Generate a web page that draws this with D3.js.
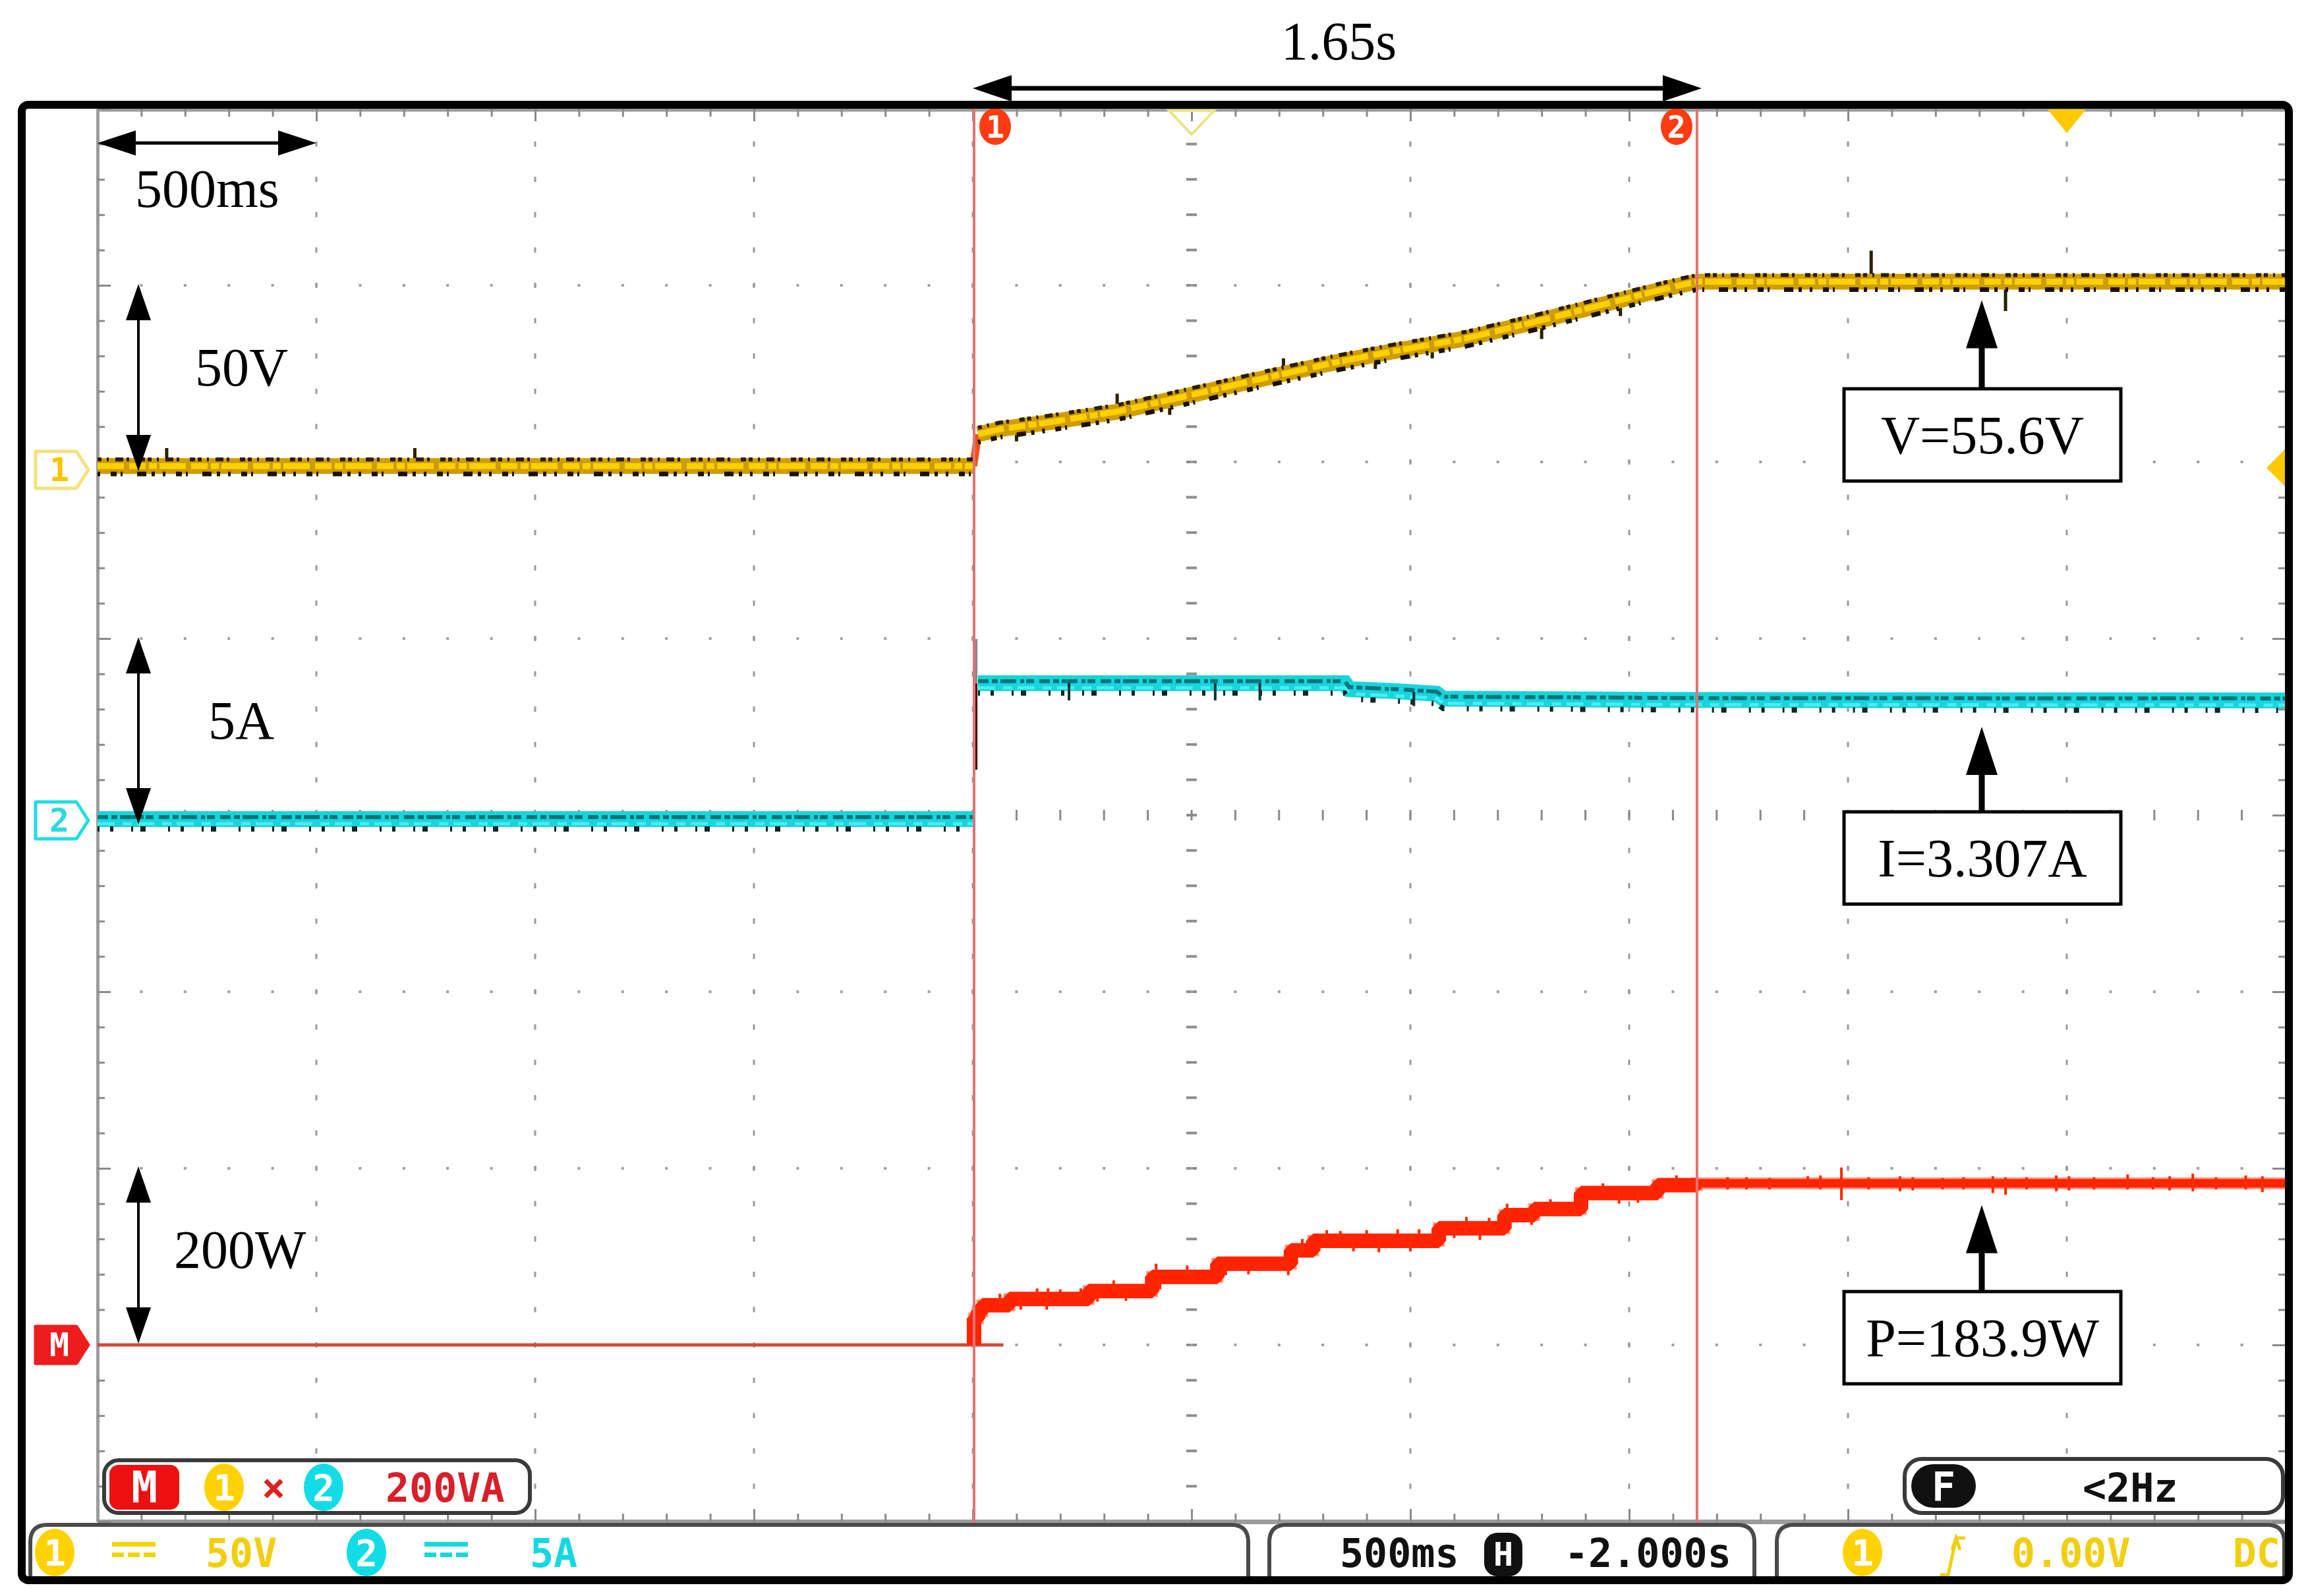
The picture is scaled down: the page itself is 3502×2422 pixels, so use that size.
<!DOCTYPE html>
<html><head><meta charset="utf-8">
<script src="https://cdn.jsdelivr.net/npm/d3@7"></script>
<style>html,body{margin:0;padding:0;background:#fff;} svg{display:block;}</style>
</head><body>
<script>
// ================= DATA =================
const timeDomain = [0, 5];                 // s : 10 divisions x 500 ms
const secPerDiv = 0.5;
const voltsPerDiv = 50, ampsPerDiv = 5, wattsPerDiv = 200;
const cursorTimes = [2.003, 3.655];        // cursor 1 / cursor 2 (Δ = 1.65 s)

// Channel 1 : voltage (V)
const vTimes  = [0, 2.001, 2.012, 2.06, 2.18, 2.33, 2.48, 2.66, 2.815, 2.96, 3.125, 3.27, 3.43, 3.54, 3.61, 3.655, 5.0];
const vValues = [0.5, 0.5, 9.5, 10.9, 13.0, 15.9, 20.1, 25.2, 29.5, 33.0, 36.6, 40.9, 45.9, 49.4, 51.5, 52.7, 52.7];
const vSpikes = [[0.158, 0.5, 5.6], [0.725, 0.5, 5.6], [4.053, 52.7, 61.5], [4.36, 44.4, 52.7], [2.33, 15.9, 21], [2.92, 28, 33], [3.3, 36.5, 41],
  [2.1, 7.5, 13], [2.45, 15, 20], [2.71, 27, 31], [3.05, 31, 36], [3.48, 43, 47.5]];

// Channel 2 : current (A)
const iTimes  = [0, 2.004, 2.012, 2.85, 2.86, 2.97, 3.06, 3.075, 3.655, 5.0];
const iValues = [0, 0, 3.85, 3.85, 3.68, 3.62, 3.55, 3.41, 3.37, 3.36];
const iTransient = [2.007, 1.4, 5.1];      // switching spike [t, low, high]
const iSpikes = [[2.22, 3.36, 3.85], [2.554, 3.36, 3.85], [2.656, 3.36, 3.85], [3.008, 3.2, 3.6]];

// Math M = ch1 x ch2 : power (W)
const pTimes  = [2.003, 2.012, 2.022, 2.084, 2.265, 2.41, 2.559, 2.727, 2.778, 3.065, 3.215, 3.283, 3.39, 3.565, 3.655, 5.0];
const pValues = [30, 38, 45, 52, 61, 77, 92, 107, 118, 132, 147, 154, 172, 181, 183, 183];
const pBaseline = [[0, 0], [2.07, 0]];
const pSpikes = [[2.062, 45, 58], [2.147, 52, 64], [2.169, 40, 52], [2.172, 52, 64], [2.247, 52, 64], [2.285, 49, 61],
  [2.322, 61, 73], [2.419, 77, 92], [2.428, 63, 77], [2.578, 79, 92], [2.721, 79, 92], [2.753, 107, 120],
  [2.809, 118, 130], [2.928, 105, 118], [2.971, 118, 131], [3.128, 132, 145], [3.159, 119, 132], [3.221, 147, 160],
  [3.277, 136, 147], [3.477, 160, 172], [3.608, 181, 192],
  [2.11, 40, 52], [2.2, 52, 63], [2.35, 50, 61], [2.49, 77, 90], [2.63, 80, 92], [2.84, 118, 129], [2.87, 106, 118],
  [2.9, 118, 130], [3.0, 106, 118], [3.02, 118, 131], [3.1, 121, 132], [3.18, 132, 144], [3.32, 154, 165], [3.44, 172, 183], [3.52, 161, 172],
  [3.725, 176, 190], [3.768, 176, 190], [3.821, 176, 189], [3.908, 178, 191], [3.937, 176, 192], [3.985, 164, 201],
  [4.047, 176, 190], [4.119, 174, 191], [4.148, 175, 190], [4.216, 176, 189], [4.264, 176, 190], [4.331, 172, 191],
  [4.36, 170, 190], [4.408, 176, 190], [4.476, 174, 192], [4.505, 175, 191], [4.562, 176, 190], [4.639, 176, 193],
  [4.697, 176, 190], [4.735, 175, 191], [4.788, 174, 194], [4.841, 176, 190], [4.909, 176, 192], [4.947, 173, 191]];

// Annotations
const leftLabels  = ["50V", "5A", "200W"];
const readouts    = ["V=55.6V", "I=3.307A", "P=183.9W"];
const spanLabels  = ["500ms", "1.65s"];

// ================= LAYOUT =================
const W = 3502, H = 2422;
const L = 148, R = 3468, T = 165, B = 2309;
const divH = (B - T) / 8;
const serif = "'Liberation Serif','Times New Roman',serif";
const mono = "'DejaVu Sans Mono','Liberation Mono',monospace";

const svg = d3.select("body").append("svg").attr("width", W).attr("height", H);
svg.append("rect").attr("width", W).attr("height", H).attr("fill", "#fff");

const x  = d3.scaleLinear().domain(timeDomain).range([L, R]);
const gy = d3.scaleLinear().domain([0, 8]).range([T, B]);          // divisions
const yV = d3.scaleLinear().domain([0, voltsPerDiv]).range([710, 710 - divH]);
const yI = d3.scaleLinear().domain([0, ampsPerDiv]).range([1243, 1243 - divH]);
const yP = d3.scaleLinear().domain([0, wattsPerDiv]).range([gy(7), gy(6)]);

// ---------- grid dots ----------
const grid = svg.append("g");
const minorT = d3.range(0, 51).map(i => i * secPerDiv / 5);
const minorD = d3.range(0, 41).map(i => i / 5);
const majorT = d3.range(1, 10).map(i => i * secPerDiv);
const majorD = d3.range(1, 8);
majorT.forEach(t => {
  const cx = x(t), centre = Math.abs(t - 2.5) < 1e-6;
  minorD.forEach(d => {
    if (d <= 0 || d >= 8) return;
    if (centre) grid.append("rect").attr("x", cx - 8).attr("y", gy(d) - 2).attr("width", 16).attr("height", 4).attr("fill", "#8e8e8e");
    else grid.append("rect").attr("x", cx - 1.5).attr("y", gy(d) - 4).attr("width", 3).attr("height", 8).attr("fill", "#9a9a9a");
  });
});
majorD.forEach(r => {
  const cy = gy(r), centre = r === 4;
  minorT.forEach(t => {
    if (t <= 0 || t >= 5) return;
    if (centre) grid.append("rect").attr("x", x(t) - 1.5).attr("y", cy - 8).attr("width", 3).attr("height", 16).attr("fill", "#8a8a8a");
    else grid.append("rect").attr("x", x(t) - 2).attr("y", cy - 2).attr("width", 4).attr("height", 4).attr("fill", "#a0a0a0");
  });
});

// ---------- edge axes (ticks) ----------
function styleAxis(g, w) {
  g.selectAll(".domain").attr("stroke", "#9c9c9c").attr("stroke-width", w);
  g.selectAll(".tick line").attr("stroke", "#8a8a8a").attr("stroke-width", 3);
  g.selectAll("text").remove();
}
const majorTicksT = d3.range(0, 11).map(i => i * secPerDiv);
svg.append("g").attr("transform", `translate(0,${T})`)
  .call(d3.axisBottom(x).tickValues(minorT).tickSize(12).tickSizeOuter(0).tickFormat("")).call(styleAxis, 8);
svg.append("g").attr("transform", `translate(0,${T})`)
  .call(d3.axisBottom(x).tickValues(majorTicksT).tickSize(19).tickSizeOuter(0).tickFormat("")).call(styleAxis, 0);
svg.append("g").attr("transform", `translate(0,${B})`)
  .call(d3.axisTop(x).tickValues(minorT).tickSize(12).tickSizeOuter(0).tickFormat("")).call(styleAxis, 7);
svg.append("g").attr("transform", `translate(0,${B})`)
  .call(d3.axisTop(x).tickValues(majorTicksT).tickSize(19).tickSizeOuter(0).tickFormat("")).call(styleAxis, 0);
svg.append("g").attr("transform", `translate(${L},0)`)
  .call(d3.axisRight(gy).tickValues(minorD).tickSize(11).tickSizeOuter(0).tickFormat("")).call(styleAxis, 5);
svg.append("g").attr("transform", `translate(${L},0)`)
  .call(d3.axisRight(gy).tickValues(d3.range(0, 9)).tickSize(20).tickSizeOuter(0).tickFormat("")).call(styleAxis, 0);
svg.append("g").attr("transform", `translate(${R},0)`)
  .call(d3.axisLeft(gy).tickValues(minorD).tickSize(11).tickSizeOuter(0).tickFormat("")).call(styleAxis, 0);
svg.append("g").attr("transform", `translate(${R},0)`)
  .call(d3.axisLeft(gy).tickValues(d3.range(0, 9)).tickSize(20).tickSizeOuter(0).tickFormat("")).call(styleAxis, 0);

// ---------- traces ----------
const tr = svg.append("g").attr("fill", "none");

// Math (power) baseline and ramp
tr.append("path").attr("d", d3.line().x(d => x(d[0])).y(d => yP(d[1]))(pBaseline))
  .attr("stroke", "#cf4a3a").attr("stroke-width", 5);
const pLine = d3.line().x(d => x(d[0])).y(d => yP(d[1])).curve(d3.curveStepAfter);
const pData = [[2.003, 0]].concat(d3.zip(pTimes, pValues));
const pRamp = pData.filter(d => d[0] <= 3.655);
tr.append("path").attr("d", pLine(pData)).attr("stroke", "#ff9a84").attr("stroke-width", 18);
tr.append("path").attr("d", pLine(pData)).attr("stroke", "#ff2400").attr("stroke-width", 13);
tr.append("path").attr("d", pLine(pRamp)).attr("stroke", "#ff2400").attr("stroke-width", 22).attr("stroke-linejoin", "bevel");
pSpikes.forEach(s => tr.append("line").attr("x1", x(s[0])).attr("x2", x(s[0])).attr("y1", yP(s[1])).attr("y2", yP(s[2]))
  .attr("stroke", "#ff2a00").attr("stroke-width", 4));

// Channel 2 (current)
const iLine = d3.line().x(d => x(d[0])).y(d => yI(d[1]));
const iData = d3.zip(iTimes, iValues);
const iPre = iData.filter(d => d[0] <= 2.004), iPost = iData.filter(d => d[0] >= 2.012);
tr.append("line").attr("x1", x(iTransient[0])).attr("x2", x(iTransient[0]))
  .attr("y1", yI(iTransient[1])).attr("y2", yI(3.85)).attr("stroke", "#4a1212").attr("stroke-width", 5);
tr.append("line").attr("x1", x(iTransient[0])).attr("x2", x(iTransient[0]))
  .attr("y1", yI(3.85)).attr("y2", yI(iTransient[2])).attr("stroke", "#7f9090").attr("stroke-width", 5);
[iPre, iPost].forEach(seg => {
  tr.append("path").attr("d", iLine(seg)).attr("stroke", "#18d4dc").attr("stroke-width", 24);
  tr.append("path").attr("d", iLine(seg)).attr("stroke", "#0c7479").attr("stroke-width", 6)
    .attr("stroke-dasharray", "16 5 9 4 24 6 6 3 12 8").attr("transform", "translate(0,-3)");
  tr.append("path").attr("d", iLine(seg)).attr("stroke", "#46eef3").attr("stroke-width", 5)
    .attr("stroke-dasharray", "26 12 14 8").attr("transform", "translate(0,7)");
  tr.append("path").attr("d", iLine(seg)).attr("stroke", "#0f2526").attr("stroke-width", 8)
    .attr("stroke-dasharray", "3 16 5 27 3 11 8 34").attr("transform", "translate(0,15)");
});
iSpikes.forEach(s => tr.append("line").attr("x1", x(s[0])).attr("x2", x(s[0])).attr("y1", yI(s[1])).attr("y2", yI(s[2]))
  .attr("stroke", "#0e3335").attr("stroke-width", 4));

// Channel 1 (voltage)
const vLine = d3.line().x(d => x(d[0])).y(d => yV(d[1]));
const vData = d3.zip(vTimes, vValues);
const vPre = vData.filter(d => d[0] <= 2.001), vPost = vData.filter(d => d[0] >= 2.012);
vSpikes.forEach(s => tr.append("line").attr("x1", x(s[0])).attr("x2", x(s[0])).attr("y1", yV(s[1])).attr("y2", yV(s[2]))
  .attr("stroke", "#2a2000").attr("stroke-width", 5));
tr.append("line").attr("x1", x(2.001)).attr("x2", x(2.012)).attr("y1", yV(0.5)).attr("y2", yV(9.5))
  .attr("stroke", "#f0501a").attr("stroke-width", 12);
[vPre, vPost].forEach(seg => {
  tr.append("path").attr("d", vLine(seg)).attr("stroke", "#cf9d00").attr("stroke-width", 24).attr("stroke-linejoin", "round");
  tr.append("path").attr("d", vLine(seg)).attr("stroke", "#ffd000").attr("stroke-width", 9)
    .attr("stroke-dasharray", "40 8 25 5 12 4");
  tr.append("path").attr("d", vLine(seg)).attr("stroke", "#2b1d00").attr("stroke-width", 6)
    .attr("stroke-dasharray", "6 8 3 10 12 5 4 16 8 4").attr("transform", "translate(0,-10)");
  tr.append("path").attr("d", vLine(seg)).attr("stroke", "#1a1200").attr("stroke-width", 7)
    .attr("stroke-dasharray", "4 16 9 6 3 22 14 8 5 12").attr("transform", "translate(0,12)");
});

// ---------- cursors ----------
cursorTimes.forEach((t, i) => {
  svg.append("line").attr("x1", x(t)).attr("x2", x(t)).attr("y1", T).attr("y2", 2312)
    .attr("stroke", "#df7474").attr("stroke-width", 4);
  const cx = i === 0 ? x(t) + 32 : x(t) - 31;
  svg.append("ellipse").attr("cx", cx).attr("cy", 192).attr("rx", 24).attr("ry", 28).attr("fill", "#ff3b12");
  svg.append("text").attr("x", cx).attr("y", 209).attr("text-anchor", "middle").attr("font-family", mono)
    .attr("font-weight", "bold").attr("font-size", 46).attr("fill", "#fff").text(String(i + 1));
});

// top markers
svg.append("path").attr("d", `M${x(2.5) - 34},168 L${x(2.5) + 34},168 L${x(2.5)},204 Z`)
  .attr("fill", "none").attr("stroke", "#e6e68a").attr("stroke-width", 4);
svg.append("path").attr("d", `M${x(4.5) - 29},166 L${x(4.5) + 29},166 L${x(4.5)},202 Z`).attr("fill", "#ffc800");
svg.append("path").attr("d", `M${R},${yV(0) - 29} L${R},${yV(0) + 29} L${R - 29},${yV(0)} Z`).attr("fill", "#ffc800");

// channel markers (left)
function marker(yc, stroke, fill, txt, txtFill) {
  const h = 28;
  svg.append("path").attr("d", `M54,${yc - h} H116 L134,${yc} L116,${yc + h} H54 Z`)
    .attr("fill", fill).attr("stroke", stroke).attr("stroke-width", 5).attr("stroke-linejoin", "round");
  svg.append("text").attr("x", 90).attr("y", yc + 17).attr("text-anchor", "middle").attr("font-family", mono)
    .attr("font-weight", "bold").attr("font-size", 50).attr("fill", txtFill).text(txt);
}
marker(yV(0) + 3, "#f2e27a", "#fff", "1", "#f6c400");
marker(yI(0) + 2, "#20dde4", "#fff", "2", "#2fd9e0");
marker(yP(0), "#ee1c1c", "#ee1c1c", "M", "#fff");

// ---------- annotations ----------
const ann = svg.append("g");
function hArrow(x1, x2, y, head, hh, w) {
  ann.append("line").attr("x1", x1 + head - 2).attr("x2", x2 - head + 2).attr("y1", y).attr("y2", y).attr("stroke", "#000").attr("stroke-width", w);
  ann.append("path").attr("d", `M${x1},${y} L${x1 + head},${y - hh / 2} L${x1 + head},${y + hh / 2} Z`).attr("fill", "#000");
  ann.append("path").attr("d", `M${x2},${y} L${x2 - head},${y - hh / 2} L${x2 - head},${y + hh / 2} Z`).attr("fill", "#000");
}
function vArrow(xc, y1, y2, head, hw, w) {
  ann.append("line").attr("x1", xc).attr("x2", xc).attr("y1", y1 + head - 2).attr("y2", y2 - head + 2).attr("stroke", "#000").attr("stroke-width", w);
  ann.append("path").attr("d", `M${xc},${y1} L${xc - hw / 2},${y1 + head} L${xc + hw / 2},${y1 + head} Z`).attr("fill", "#000");
  ann.append("path").attr("d", `M${xc},${y2} L${xc - hw / 2},${y2 - head} L${xc + hw / 2},${y2 - head} Z`).attr("fill", "#000");
}
function label(txt, xx, yy, anchor) {
  ann.append("text").attr("x", xx).attr("y", yy).attr("text-anchor", anchor || "start").attr("font-family", serif)
    .attr("font-size", 82).attr("fill", "#000").text(txt);
}
hArrow(x(0), x(secPerDiv), 217, 58, 38, 5);
label(spanLabels[0], 205, 314);
hArrow(x(cursorTimes[0]) - 2, x(cursorTimes[1]) + 7, 134, 59, 40, 7);
label(spanLabels[1], (x(cursorTimes[0]) + x(cursorTimes[1])) / 2 + 5, 90, "middle");
vArrow(210, yV(voltsPerDiv) - 11, yV(0) + 5, 55, 38, 4);
label(leftLabels[0], 296, 585);
vArrow(210, yI(ampsPerDiv) - 8, yI(0) + 8, 55, 38, 4);
label(leftLabels[1], 316, 1121);
vArrow(210, yP(wattsPerDiv) - 3, yP(0) - 2, 55, 38, 4);
label(leftLabels[2], 264, 1924);

function readout(txt, tipY, boxTop) {
  const bx = 2798, bw = 420, bh = 140, xc = 3007;
  ann.append("line").attr("x1", xc).attr("x2", xc).attr("y1", tipY + 60).attr("y2", boxTop).attr("stroke", "#000").attr("stroke-width", 9);
  ann.append("path").attr("d", `M${xc},${tipY} L${xc - 24},${tipY + 73} L${xc + 24},${tipY + 73} Z`).attr("fill", "#000");
  ann.append("rect").attr("x", bx).attr("y", boxTop).attr("width", bw).attr("height", bh).attr("fill", "#fff")
    .attr("stroke", "#000").attr("stroke-width", 5);
  ann.append("text").attr("x", bx + bw / 2).attr("y", boxTop + bh / 2 + 28).attr("text-anchor", "middle")
    .attr("font-family", serif).attr("font-size", 82).text(txt);
}
readout(readouts[0], yV(52.7) + 28, 590);
readout(readouts[1], yI(3.36) + 40, 1232);
readout(readouts[2], yP(183) + 33, 1960);

// ---------- scope status boxes ----------
const st = svg.append("g");
function stText(txt, xx, yy, fill, size, anchor) {
  st.append("text").attr("x", xx).attr("y", yy).attr("font-family", mono).attr("font-weight", "bold")
    .attr("font-size", size || 60).attr("fill", fill).attr("text-anchor", anchor || "start").text(txt);
}
function circ(cx, cy, fill, txt) {
  st.append("ellipse").attr("cx", cx).attr("cy", cy).attr("rx", 30).attr("ry", 36).attr("fill", fill);
  stText(txt, cx, cy + 20, "#fff", 56, "middle");
}
st.append("rect").attr("x", 158).attr("y", 2216).attr("width", 646).attr("height", 80).attr("rx", 22)
  .attr("fill", "#fff").attr("stroke", "#3a3a3a").attr("stroke-width", 6);
st.append("rect").attr("x", 166).attr("y", 2223).attr("width", 106).attr("height", 68).attr("rx", 14).attr("fill", "#ee1010");
stText("M", 219, 2280, "#fff", 66, "middle");
circ(340, 2257, "#ffd200", "1");
stText("×", 415, 2278, "#dd2020", 60, "middle");
circ(491, 2257, "#12dde6", "2");
stText("200VA", 585, 2279, "#d8202a", 60);
st.append("rect").attr("x", 2890).attr("y", 2214).attr("width", 574).attr("height", 82).attr("rx", 26)
  .attr("fill", "#fff").attr("stroke", "#3a3a3a").attr("stroke-width", 6);
st.append("rect").attr("x", 2900).attr("y", 2222).attr("width", 98).attr("height", 66).attr("rx", 33).attr("fill", "#111");
stText("F", 2949, 2277, "#fff", 60, "middle");
stText("<2Hz", 3160, 2279, "#111", 60);
function seg(x1, x2) {
  st.append("path").attr("d", `M${x1},2398 V2340 Q${x1},2314 ${x1 + 26},2314 H${x2 - 26} Q${x2},2314 ${x2},2340 V2398`)
    .attr("fill", "#fff").attr("stroke", "#4a4a4a").attr("stroke-width", 6);
}
seg(46, 1894); seg(1926, 2662); seg(2696, 3466);
circ(83, 2356, "#ffd200", "1");
st.append("rect").attr("x", 170).attr("y", 2340).attr("width", 66).attr("height", 7).attr("fill", "#f3d400");
[170, 194, 218].forEach(xx => st.append("rect").attr("x", xx).attr("y", 2356).attr("width", 18).attr("height", 7).attr("fill", "#f3d400"));
stText("50V", 312, 2378, "#f0cf10", 60);
circ(556, 2356, "#12dde6", "2");
st.append("rect").attr("x", 644).attr("y", 2340).attr("width", 66).attr("height", 7).attr("fill", "#14d8e0");
[644, 668, 692].forEach(xx => st.append("rect").attr("x", xx).attr("y", 2356).attr("width", 18).attr("height", 7).attr("fill", "#14d8e0"));
stText("5A", 804, 2378, "#14d8e0", 60);
stText("500ms", 2033, 2378, "#111", 60);
st.append("rect").attr("x", 2252).attr("y", 2326).attr("width", 58).attr("height", 66).attr("rx", 20).attr("fill", "#111");
stText("H", 2281, 2376, "#fff", 50, "middle");
stText("-2.000s", 2374, 2378, "#111", 60);
circ(2826, 2356, "#ffd200", "1");
st.append("path").attr("d", "M2944,2390 L2956,2390 L2968,2334 L2982,2334 M2962,2352 L2968,2334 L2974,2352")
  .attr("fill", "none").attr("stroke", "#f0cf10").attr("stroke-width", 5);
stText("0.00V", 3052, 2378, "#f0cf10", 60);
stText("DC", 3460, 2378, "#f0cf10", 60, "end");

// ---------- outer frame ----------
svg.append("rect").attr("x", 33).attr("y", 159).attr("width", 3440).attr("height", 2239).attr("rx", 10)
  .attr("fill", "none").attr("stroke", "#000").attr("stroke-width", 12);
</script>
</body></html>
